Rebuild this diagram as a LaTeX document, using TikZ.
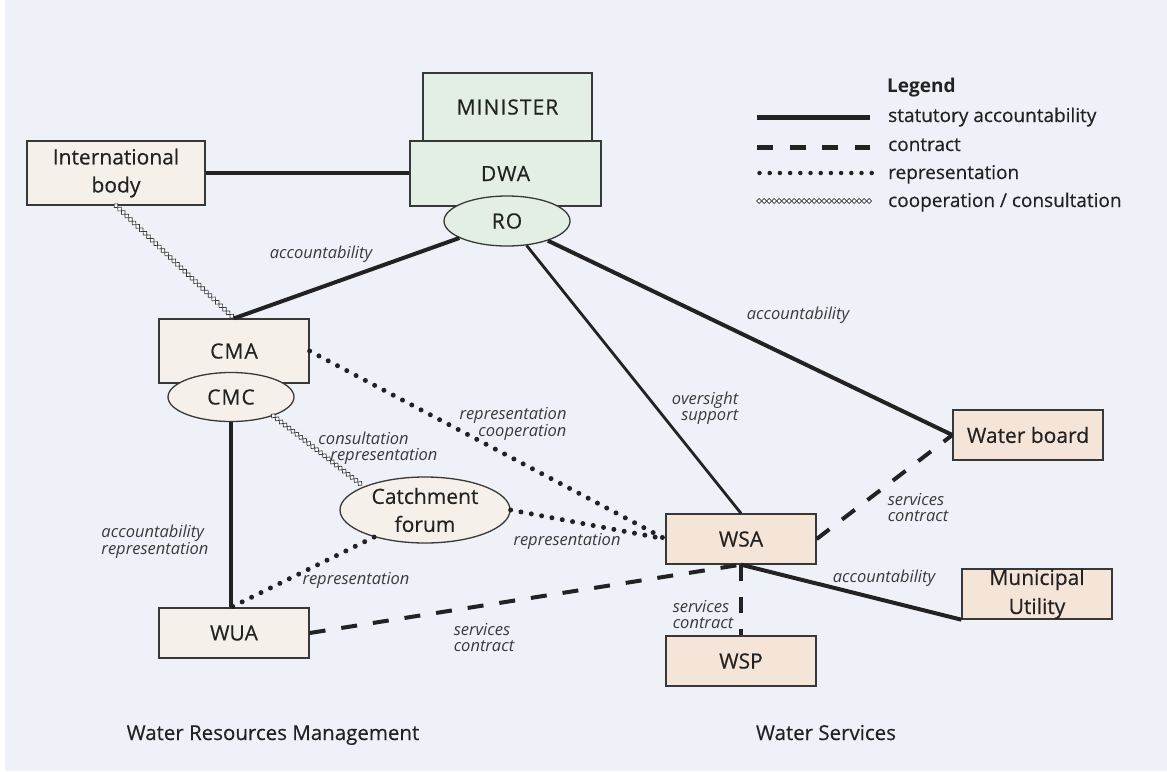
\documentclass[tikz,border=0pt]{standalone}
\usepackage{fontspec}
\setmainfont{Open Sans}
\newfontfamily\nodefont[FakeBold=0.4]{Open Sans}
\usetikzlibrary{shapes.geometric,decorations.markings}
\definecolor{bgc}{HTML}{EEF1F8}
\definecolor{greenf}{HTML}{E3EFE4}
\definecolor{beigef}{HTML}{F5F1EA}
\definecolor{pinkf}{HTML}{F5E4D8}
\definecolor{ink}{HTML}{222222}
\definecolor{lbl}{HTML}{3A3A3A}
\tikzset{
  boxg/.style={draw=ink!90, line width=1.3pt, fill=greenf, inner sep=0pt, font=\nodefont\fontsize{21}{28}\selectfont, text=ink, align=center},
  boxb/.style={boxg, fill=beigef},
  boxp/.style={boxg, fill=pinkf},
  ellg/.style={ellipse, boxg},
  ellb/.style={ellipse, boxb},
  solidline/.style={draw=ink, line width=4pt},
  thinsolid/.style={draw=ink, line width=2.8pt},
  dashline/.style={draw=ink, line width=4pt, dash pattern=on 16pt off 16pt},
  dotline/.style={draw=ink, line width=5pt, line cap=round, dash pattern=on 0pt off 10.5pt},
  coopline/.style={decorate, decoration={markings, mark=between positions 0 and 1 step 5pt with {\draw[draw=ink!90, line width=0.7pt, fill=white] (-2.5pt,0) -- (0,2.5pt) -- (2.5pt,0) -- (0,-2.5pt) -- cycle;}}},
  lab/.style={font=\fontsize{16.5}{16}\selectfont\itshape, text=lbl, align=left, inner sep=0pt},
  legtext/.style={font=\nodefont\fontsize{19}{22}\selectfont, text=ink, anchor=base west, inner sep=0pt},
  headtext/.style={font=\nodefont\fontsize{20.5}{24}\selectfont, text=ink, anchor=base, inner sep=0pt},
}
\begin{document}
\begin{tikzpicture}[x=1pt, y=-1pt]
\useasboundingbox (0,0) rectangle (1167,771);
\fill[white] (0,0) rectangle (1167,771);
\fill[bgc] (4.5,0) rectangle (1167,771);

% nodes
\node[boxg, minimum width=169pt, minimum height=68pt] (min) at (507.5,107) {\addfontfeatures{LetterSpace=5}MINISTER};
\node[boxg, minimum width=191pt, minimum height=65pt] (dwa) at (505.5,173.5) {\addfontfeatures{LetterSpace=5}DWA};
\node[ellg, minimum width=126pt, minimum height=50pt] (ro) at (507,221) {\addfontfeatures{LetterSpace=5}RO};
\node[boxb, minimum width=178pt, minimum height=64pt] (intl) at (116,173) {International\\body};
\node[boxb, minimum width=150pt, minimum height=64pt] (cma) at (234,351) {\addfontfeatures{LetterSpace=5}CMA};
\node[ellb, minimum width=126pt, minimum height=49pt] (cmc) at (231,397) {\addfontfeatures{LetterSpace=5}CMC};
\node[ellb, minimum width=170pt, minimum height=66pt] (forum) at (425,510) {Catchment\\forum};
\node[boxb, minimum width=150pt, minimum height=50pt] (wua) at (234,633) {WUA};
\node[boxp, minimum width=150pt, minimum height=50pt] (wsa) at (741,539) {WSA};
\node[boxp, minimum width=150pt, minimum height=50pt] (wsp) at (741,661) {WSP};
\node[boxp, minimum width=150pt, minimum height=50pt] (wb) at (1028,435) {Water board};
\node[boxp, minimum width=150pt, minimum height=50pt] (mu) at (1037,594) {\raisebox{-8pt}{\shortstack{Municipal\\[5pt]Utility}}};

% connectors
\draw[solidline] (intl.east) -- (intl.east -| dwa.west);
\draw[coopline] (intl.south) -- (cma.north);
\draw[solidline] (ro) -- (cma.north);
\draw[thinsolid] (ro) -- (wsa.north);
\draw[solidline] (ro) -- (wb.west);
\draw[dotline] (cma.east) -- (wsa.west);
\draw[coopline] (cmc.-24) -- (forum.159);
\draw[solidline] (cmc.south) -- (cmc.south |- wua.north);
\draw[dotline] (forum.east) -- (wsa.west);
\draw[dotline] (forum.-152) -- (cmc.south |- wua.north);
\draw[dashline] (wua.east) -- (wsa.south);
\draw[dashline] (wsa.east) -- (wb.west);
\draw[dashline] (wsa.south) -- (wsp.north);
\draw[solidline] (wsa.south) -- (mu.south west);

% labels
\node[lab] (l1) at (321,254) {accountability};
\node[lab] (l2) at (798,315) {accountability};
\node[lab, align=right] (l3) at (705,408) {oversight\\support};
\node[lab, align=right] (l4) at (513,424) {representation\\cooperation};
\node[lab] (l5) at (378,448) {consultation\\\hspace*{12pt}representation};
\node[lab, align=left] (l6) at (155,542) {accountability\\representation};
\node[lab] (l7) at (567,541) {representation};
\node[lab] (l8) at (356,580) {representation};
\node[lab] (l9) at (484,638) {services\\contract};
\node[lab] (l10) at (918,508) {services\\contract};
\node[lab] (l11) at (703,615) {services\\contract};
\node[lab] (l12) at (884,578) {accountability};

% legend
\node[legtext, font=\fontsize{19}{22}\selectfont\bfseries] (lg) at (887,92) {Legend};
\coordinate (a1) at (757,117.5); \coordinate (a2) at (870,117.5);
\coordinate (b1) at (757,147.5); \coordinate (b2) at (870,147.5);
\coordinate (c1) at (759.5,173); \coordinate (c2) at (872,173);
\coordinate (d1) at (759,201); \coordinate (d2) at (870,201);
\draw[draw=ink, line width=4.5pt] (a1) -- (a2);
\draw[draw=ink, line width=4.5pt, dash pattern=on 16pt off 16.6pt] (b1) -- (b2);
\draw[dotline, line width=4.5pt, dash pattern=on 0pt off 10.2pt] (c1) -- (c2);
\draw[coopline] (d1) -- (d2);
\node[legtext] (t1) at (888,122) {statutory accountability};
\node[legtext] (t2) at (888,151) {contract};
\node[legtext] (t3) at (888,179) {representation};
\node[legtext] (t4) at (888,207) {cooperation / consultation};

% bottom headings
\node[headtext] (h1) at (273,740) {Water Resources Management};
\node[headtext] (h2) at (826,740) {Water Services};
\end{tikzpicture}
\end{document}
